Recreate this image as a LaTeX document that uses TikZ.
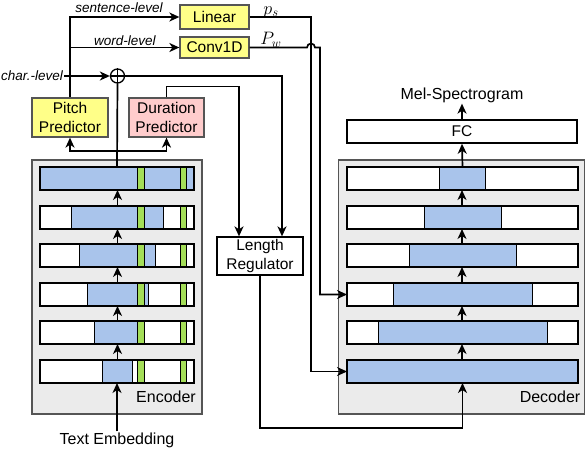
\RequirePackage{fix-cm}
\documentclass[tikz,border=0pt]{standalone}
\usepackage{fontspec}
\setmainfont{Liberation Sans}
\usetikzlibrary{arrows.meta,calc}
\definecolor{blu}{HTML}{A9C4EB}
\definecolor{grn}{HTML}{A4DE58}
\definecolor{ylw}{HTML}{FFFF88}
\definecolor{pnk}{HTML}{FFCCCC}
\definecolor{bgc}{HTML}{EBEBEB}
\definecolor{edge}{HTML}{555555}
\begin{document}
\begin{tikzpicture}[x=1pt,y=-1pt,
  conn/.style={line width=1.7pt},
  arr/.style={conn,-{Stealth[length=10pt,width=9pt,inset=3pt]}},
  box/.style={draw=edge,line width=1.3pt,inner sep=0,align=center,font=\fontsize{15.5}{18.5}\selectfont},
  rowbox/.style={inner sep=0,outer sep=0,minimum height=23pt},
  lbl/.style={font=\fontsize{13.5}{15}\selectfont\itshape,inner sep=1pt},
  txt/.style={font=\fontsize{16}{18}\selectfont,inner sep=1pt},
  mth/.style={font=\fontsize{18}{20}\selectfont,inner sep=0}]
\useasboundingbox (0,0) rectangle (586,448);

% group boxes
\node[draw=edge,fill=bgc,line width=1.3pt,minimum width=170pt,minimum height=254pt,inner sep=0] (enc) at (117,287) {};
\node[draw=edge,fill=bgc,line width=1.3pt,minimum width=246pt,minimum height=254pt,inner sep=0] (dec) at (461.5,287) {};
\node[txt] (enclbl) at (166,397) {Encoder};
\node[txt] (declbl) at (550,397) {Decoder};

% encoder rows
\foreach \i/\yy in {1/178.5,2/217.5,3/255.5,4/294.5,5/332.5,6/371.5}{
  \node[rowbox,minimum width=154pt] (e\i) at (117,\yy) {};
  \fill[white] (e\i.north west) rectangle (e\i.south east);
}
\foreach \i/\ax/\bx in {1/40/194,2/71/163,3/79/155,4/87/148,5/94/137,6/102/132}{
  \draw[fill=blu,line width=0.8pt] (\ax,0 |- e\i.north) rectangle (\bx,0 |- e\i.south);
  \draw[fill=grn,line width=0.8pt] (137,0 |- e\i.north) rectangle (144,0 |- e\i.south);
  \draw[fill=grn,line width=0.8pt] (180,0 |- e\i.north) rectangle (186,0 |- e\i.south);
  \draw[line width=1.7pt] (e\i.north west) rectangle (e\i.south east);
}

% decoder rows
\foreach \i/\yy/\ax/\bx in {1/178.5/439/485,2/217.5/424/501,3/255.5/409/516,4/294.5/393/532,5/332.5/378/547,6/371.5/347/578}{
  \node[rowbox,minimum width=231pt] (d\i) at (462.5,\yy) {};
  \fill[white] (d\i.north west) rectangle (d\i.south east);
  \draw[fill=blu,line width=0.8pt] (\ax,0 |- d\i.north) rectangle (\bx,0 |- d\i.south);
  \draw[line width=1.7pt] (d\i.north west) rectangle (d\i.south east);
}

% arrows inside stacks
\foreach \i/\j in {6/5,5/4,4/3,3/2,2/1}{
  \draw[arr] ($(e\i.north)+(0.5,0)$) -- ($(e\j.south)+(0.5,0)$);
  \draw[arr] ($(d\i.north)+(-0.5,0)$) -- ($(d\j.south)+(-0.5,0)$);
}

% other boxes
\node[box,fill=ylw,minimum width=76pt,minimum height=39pt] (pitch) at (70,117.5) {Pitch\\Predictor};
\node[box,fill=pnk,minimum width=75pt,minimum height=39pt] (dur) at (166.5,117.5) {Duration\\Predictor};
\node[box,fill=ylw,minimum width=69pt,minimum height=24pt] (lin) at (214.5,17) {Linear};
\node[box,fill=ylw,minimum width=69pt,minimum height=21pt] (conv) at (214.5,47.5) {Conv1D};
\node[box,draw=black,fill=white,minimum width=86pt,minimum height=38pt] (lr) at (260,256) {Length\\Regulator};
\node[box,draw=black,line width=1.5pt,fill=white,minimum width=230pt,minimum height=23pt] (fc) at (462,131.5) {FC};
\node[txt] (mel) at (462,95) {Mel-Spectrogram};
\node[txt] (emb) at (117,440) {Text Embedding};
\node[draw,circle,line width=1.3pt,minimum size=14pt,inner sep=0] (op) at (117.5,76) {};
\draw[line width=1.3pt] (op.north) -- (op.south) (op.west) -- (op.east);

% labels
\node[lbl] (sl) at (119,8) {sentence-level};
\node[lbl] (wl) at (125,41) {word-level};
\node[lbl] (cl) at (32,76) {char.-level};
\node[mth] (ps) at (271,12) {$p_s$};
\node[mth] (pw) at (271,40) {$P_w$};

% connectors
\draw[arr] (emb.north) -- (e6.south);
\draw[conn] (e1.north) -- (op.south);
\coordinate (br) at (117.5,151);
\draw[arr] (br) -| (pitch.south);
\draw[arr] (br) -| (dur.south);
\draw[arr] (pitch.north) |- (lin.west);
\coordinate (wj) at (70,47.5);
\draw[arr] (wj) -- (conv.west);
\draw[arr] (cl.east) -- (op.west);
\draw[arr] (dur.north) -- ++(0,-11) -| ($(lr.north)+(-21,0)$);
\draw[arr] (op.east) -| ($(lr.north)+(22,0)$);
\draw[arr] (lr.south) -- (lr.south |- 0,428) -| (d6.south);
\draw[arr] (lin.east) -| ($(d6.west)+(-36,0)$) -- (d6.west);
\draw[arr] (conv.east) -- (307,47.5) arc (180:360:4) -- (320,47.5) |- (d4.west);
\draw[arr] (d1.north) -- (fc.south);
\draw[arr] (fc.north) -- (mel.south);
\end{tikzpicture}
\end{document}
